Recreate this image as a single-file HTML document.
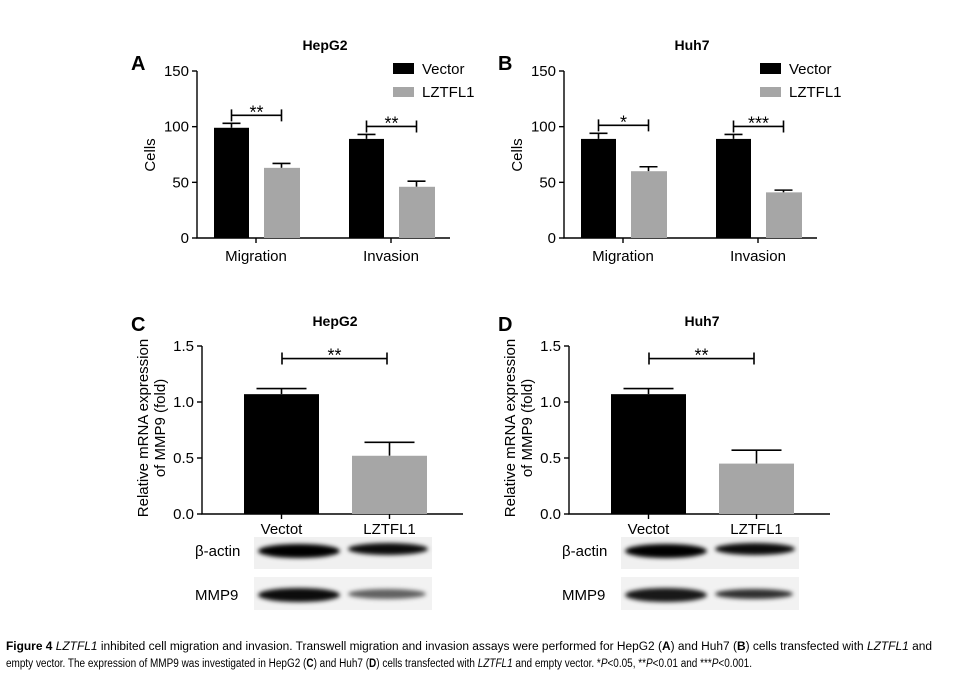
<!DOCTYPE html>
<html><head><meta charset="utf-8"><style>
body{margin:0;background:#fff;width:964px;height:683px;overflow:hidden}
svg{display:block;font-family:"Liberation Sans",Arial,sans-serif}
</style></head><body>
<svg id="fig" width="964" height="683" viewBox="0 0 964 683">
<defs><filter id="bl" x="-20%" y="-100%" width="140%" height="300%"><feGaussianBlur stdDeviation="2"/></filter></defs>
<g id="root"></g>
<text x="6" y="650" font-size="11.5" textLength="926" lengthAdjust="spacingAndGlyphs"><tspan font-weight="bold">Figure 4</tspan> <tspan font-style="italic">LZTFL1</tspan> inhibited cell migration and invasion. Transwell migration and invasion assays were performed for HepG2 (<tspan font-weight="bold">A</tspan>) and Huh7 (<tspan font-weight="bold">B</tspan>) cells transfected with <tspan font-style="italic">LZTFL1</tspan> and</text>
<text x="6" y="667" font-size="11.5" textLength="746" lengthAdjust="spacingAndGlyphs">empty vector. The expression of MMP9 was investigated in HepG2 (<tspan font-weight="bold">C</tspan>) and Huh7 (<tspan font-weight="bold">D</tspan>) cells transfected with <tspan font-style="italic">LZTFL1</tspan> and empty vector. *<tspan font-style="italic">P</tspan>&lt;0.05, **<tspan font-style="italic">P</tspan>&lt;0.01 and ***<tspan font-style="italic">P</tspan>&lt;0.001.</text>
</svg>
<script>
// Panel A/B data
const groupsAB = ["Migration","Invasion"];
const hepVector = [99, 89];
const hepVectorErr = [4, 4];
const hepLZ = [63, 46];
const hepLZErr = [4, 5];
const huhVector = [89, 89];
const huhVectorErr = [5, 4];
const huhLZ = [60, 41];
const huhLZErr = [4, 2];
const sigA = ["**","**"];
const sigB = ["*","***"];
const ticksAB = [0, 50, 100, 150];
// Panel C/D data
const groupsCD = ["Vectot","LZTFL1"];
const hepMMP9 = [1.07, 0.52];
const hepMMP9Err = [0.05, 0.12];
const huhMMP9 = [1.07, 0.45];
const huhMMP9Err = [0.05, 0.12];
const ticksCD = [0.0, 0.5, 1.0, 1.5];

const NS="http://www.w3.org/2000/svg";
const root=document.getElementById('root');
function el(tag,attrs,parent,text){const e=document.createElementNS(NS,tag);for(const k in attrs)e.setAttribute(k,attrs[k]);if(text!==undefined)e.textContent=text;(parent||root).appendChild(e);return e;}

function panelAB(ox,letter,title,vec,vecE,lz,lzE,sig,name){
  const g=el('g',{});
  
  
  const x0=197+ox,y0=238,yTop=71,xEnd=450+ox;
  const y=v=>y0-(v/150)*(y0-yTop);
  const t=el('text',{x:325+ox,y:50,'font-size':14,'font-weight':'bold','text-anchor':'middle'},g,title);
  
  const L=el('text',{x:131+ox,y:70,'font-size':20,'font-weight':'bold'},g,letter);
  
  const ax=el('path',{d:`M${x0} ${yTop}V${y0}H${xEnd}`,stroke:'#000','stroke-width':1.4,fill:'none'},g);
  
  ticksAB.forEach(v=>{
    el('line',{x1:x0-5,x2:x0,y1:y(v),y2:y(v),stroke:'#000','stroke-width':1.4},g);
    const tl=el('text',{x:x0-8,y:y(v)+5,'font-size':15,'text-anchor':'end'},g,v);
    
  });
  const yt=el('text',{x:0,y:0,'font-size':15,'text-anchor':'middle',transform:`translate(${155+ox},155) rotate(-90)`},g,'Cells');
  
  groupsAB.forEach((gname,i)=>{
    const bx=214+ox+i*135, bw=35;
    const eb=(cx,v,e)=>{el('path',{d:`M${cx} ${y(v)}V${y(v+e)}M${cx-9} ${y(v+e)}H${cx+9}`,stroke:'#000','stroke-width':1.6,fill:'none'},g);};
    eb(bx+bw/2,vec[i],vecE[i]);
    const b1=el('rect',{x:bx,y:y(vec[i]),width:bw,height:y0-y(vec[i]),fill:'#000'},g);
    
    const bx2=bx+50;
    eb(bx2+bw/2,lz[i],lzE[i]);
    const b2=el('rect',{x:bx2,y:y(lz[i]),width:bw+1,height:y0-y(lz[i]),fill:'#a6a6a6'},g);
    
    const cx=bx+42;
    el('line',{x1:cx,x2:cx,y1:y0,y2:y0+5,stroke:'#000','stroke-width':1.4},g);
    const xl=el('text',{x:cx,y:y0+23,'font-size':15,'text-anchor':'middle'},g,gname);
    
    const by=y(Math.max(vec[i]+vecE[i],lz[i]+lzE[i]))-8;
    const c1=bx+bw/2,c2=bx2+bw/2;
    const br=el('path',{d:`M${c1} ${by-6}V${by+6}M${c1} ${by}H${c2}M${c2} ${by-6}V${by+6}`,stroke:'#000','stroke-width':1.6,fill:'none'},g);
    
    const st=el('text',{x:(c1+c2)/2,y:by+3,'font-size':18,'text-anchor':'middle'},g,sig[i]);
    
  });
  const lg=el('g',{},g);
  el('rect',{x:393+ox,y:63,width:21,height:11,fill:'#000'},lg);
  el('text',{x:422+ox,y:74,'font-size':15},lg,'Vector');
  el('rect',{x:393+ox,y:87,width:21,height:10,fill:'#a6a6a6'},lg);
  el('text',{x:422+ox,y:97,'font-size':15},lg,'LZTFL1');
}

function blotBand(g,x,y,w,h,op){
  el('ellipse',{cx:x+w/2,cy:y,rx:w/2,ry:h/2,fill:'#000','fill-opacity':op,filter:'url(#bl)'},g);
}

function panelCD(ox,letter,title,vals,errs,mmpOps,name){
  const g=el('g',{});
  
  
  const x0=202+ox,y0=514,yTop=346,xEnd=463+ox;
  const y=v=>y0-(v/1.5)*(y0-yTop);
  const t=el('text',{x:335+ox,y:326,'font-size':14,'font-weight':'bold','text-anchor':'middle'},g,title);
  
  const L=el('text',{x:131+ox,y:331,'font-size':20,'font-weight':'bold'},g,letter);
  
  const ax=el('path',{d:`M${x0} ${yTop}V${y0}H${xEnd}`,stroke:'#000','stroke-width':1.4,fill:'none'},g);
  
  ticksCD.forEach(v=>{
    el('line',{x1:x0-5,x2:x0,y1:y(v),y2:y(v),stroke:'#000','stroke-width':1.4},g);
    const tl=el('text',{x:x0-8,y:y(v)+5,'font-size':15,'text-anchor':'end'},g,v.toFixed(1));
    
  });
  const yt=el('text',{x:0,y:0,'font-size':15,'text-anchor':'middle',transform:`translate(${148+ox},428) rotate(-90)`},g);
  
  el('tspan',{x:0,dy:0},yt,'Relative mRNA expression');
  el('tspan',{x:0,dy:17},yt,'of MMP9 (fold)');
  const bxs=[244+ox,352+ox],bw=75,fills=['#000','#a6a6a6'];
  groupsCD.forEach((gname,i)=>{
    const bx=bxs[i],cx=bx+bw/2;
    el('path',{d:`M${cx} ${y(vals[i])}V${y(vals[i]+errs[i])}M${cx-25} ${y(vals[i]+errs[i])}H${cx+25}`,stroke:'#000','stroke-width':1.6,fill:'none'},g);
    const b=el('rect',{x:bx,y:y(vals[i]),width:bw,height:y0-y(vals[i]),fill:fills[i]},g);
    
    el('line',{x1:cx,x2:cx,y1:y0,y2:y0+5,stroke:'#000','stroke-width':1.4},g);
    const xl=el('text',{x:cx,y:y0+20,'font-size':15,'text-anchor':'middle'},g,gname);
    
  });
  const by=y(Math.max(vals[0]+errs[0],vals[1]+errs[1]))-30;
  const c1=282+ox,c2=387+ox;
  const br=el('path',{d:`M${c1} ${by-6}V${by+6}M${c1} ${by}H${c2}M${c2} ${by-6}V${by+6}`,stroke:'#000','stroke-width':1.6,fill:'none'},g);
  
  const st=el('text',{x:(c1+c2)/2,y:by+3,'font-size':18,'text-anchor':'middle'},g,'**');
  
  // blots
  const bl=el('g',{},g);
  el('rect',{x:254+ox,y:537,width:178,height:32,fill:'#f0f0f0'},bl);
  el('rect',{x:254+ox,y:577,width:178,height:33,fill:'#f2f2f2'},bl);
  blotBand(bl,258+ox,551,82,14,1);
  blotBand(bl,348+ox,549,80,12,0.95);
  blotBand(bl,258+ox,595,82,14,mmpOps[0]);
  blotBand(bl,348+ox,594,78,10,mmpOps[1]);
  const l1=el('text',{x:195+ox,y:556,'font-size':15},g,'β-actin');
  
  const l2=el('text',{x:195+ox,y:600,'font-size':15},g,'MMP9');
  
}

panelAB(0,'A','HepG2',hepVector,hepVectorErr,hepLZ,hepLZErr,sigA,'panel-a-hepg2-chart');
panelAB(367,'B','Huh7',huhVector,huhVectorErr,huhLZ,huhLZErr,sigB,'panel-b-huh7-chart');
panelCD(0,'C','HepG2',hepMMP9,hepMMP9Err,[0.95,0.6],'panel-c-hepg2-chart');
panelCD(367,'D','Huh7',huhMMP9,huhMMP9Err,[0.9,0.8],'panel-d-huh7-chart');
</script>
</body></html>
